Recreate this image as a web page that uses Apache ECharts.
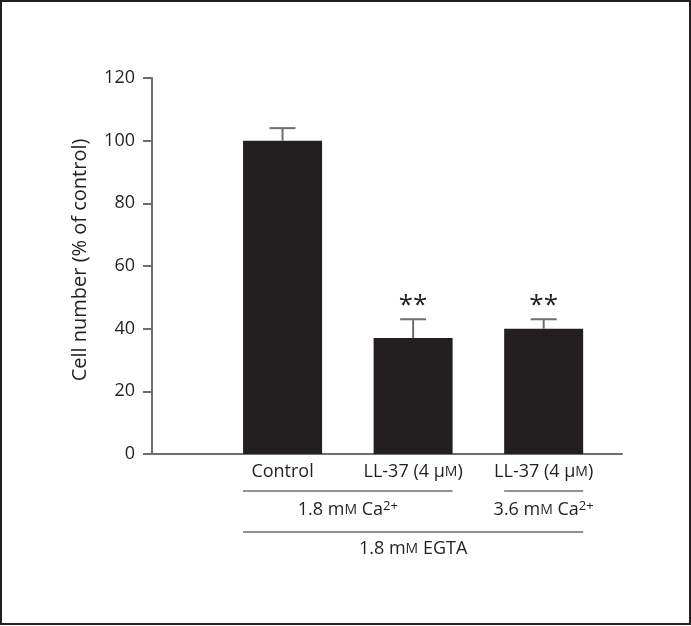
<!DOCTYPE html>
<html>
<head>
<meta charset="utf-8">
<script src="https://cdn.jsdelivr.net/npm/echarts@6/dist/echarts.min.js"></script>
<style>
  html, body { margin: 0; padding: 0; background: #fff; }
  #chart { width: 691px; height: 626px; }
</style>
</head>
<body>
<div id="chart"></div>
<script>
// bar data (x position = 1, 2, 3 on a value axis)
const categories = ['Control', 'LL-37 (4 μ{sc|M})', 'LL-37 (4 μ{sc|M})']
const positions = [1, 2, 3]
const values = [100, 37, 40]
const errors = [4, 6, 3]
const stars = ['', '**', '**']
const yTicks = [0, 20, 40, 60, 80, 100, 120]

const ink = '#231f20'
const grey = '#6d6e71'
const font = 'Open Sans'

const chart = echarts.init(document.getElementById('chart'))

const barData = positions.map((p, i) => [p, values[i]])
const errData = positions.map((p, i) => [p, values[i], errors[i], stars[i]])

chart.setOption({
  animation: false,
  backgroundColor: '#fff',
  grid: { left: 152, right: 69, top: 78, bottom: 172 },
  xAxis: {
    type: 'value',
    min: 0,
    max: 3.6,
    interval: 1,
    splitLine: { show: false },
    axisTick: { show: false },
    axisLine: { lineStyle: { color: grey, width: 2 } },
    axisLabel: {
      showMaxLabel: false,
      margin: 9,
      color: ink,
      fontFamily: font,
      fontSize: 18,
      formatter: v => (v >= 1 && v <= 3 ? categories[v - 1] : ''),
      rich: { sc: { fontSize: 14, fontFamily: font, color: ink } }
    }
  },
  yAxis: {
    type: 'value',
    min: yTicks[0],
    max: yTicks[yTicks.length - 1],
    interval: 20,
    name: 'Cell number (% of control)',
    nameLocation: 'middle',
    nameGap: 62,
    nameTextStyle: { color: ink, fontFamily: font, fontSize: 20, padding: [0, 0, 0, 12] },
    splitLine: { show: false },
    axisLine: { show: true, lineStyle: { color: grey, width: 2 } },
    axisTick: { show: true, length: 9, lineStyle: { color: grey, width: 2 } },
    axisLabel: { color: ink, fontFamily: font, fontSize: 18, margin: 17 }
  },
  series: [
    {
      type: 'bar',
      data: barData,
      barWidth: 79,
      itemStyle: { color: ink }
    },
    {
      type: 'custom',
      data: errData,
      z: 3,
      renderItem: (params, api) => {
        const x = api.value(0)
        const top = api.coord([x, api.value(1) + api.value(2)])
        const base = api.coord([x, api.value(1)])
        const half = 13
        const children = [
          { type: 'line', shape: { x1: base[0], y1: base[1], x2: top[0], y2: top[1] }, style: { stroke: grey, lineWidth: 2 } },
          { type: 'line', shape: { x1: top[0] - half, y1: top[1], x2: top[0] + half, y2: top[1] }, style: { stroke: grey, lineWidth: 2 } }
        ]
        const s = errData[params.dataIndex][3]
        if (s) {
          children.push({
            type: 'text',
            style: { text: s, x: top[0], y: top[1] - 1, align: 'center', verticalAlign: 'bottom', fill: ink, font: '26px "' + font + '"' }
          })
        }
        return { type: 'group', children }
      }
    }
  ]
})

// bracket lines and group labels below the axis
const px = v => chart.convertToPixel({ gridIndex: 0 }, [v, 0])[0]
const halfBar = 39.5 / (px(1) - px(0))
const textStyle = (txt, x, y) => ({
  type: 'text',
  style: {
    text: txt, x, y, align: 'center', verticalAlign: 'middle',
    fill: ink, fontFamily: font, fontSize: 18,
    rich: {
      sc: { fontSize: 14, fontFamily: font, fill: ink },
      sup: { fontSize: 13, fontFamily: font, fill: ink, verticalAlign: 'top', padding: [0, 0, 8, 0] }
    }
  }
})
const bracket = (a, b, y) => ({
  type: 'line',
  shape: { x1: px(a), y1: y, x2: px(b), y2: y },
  style: { stroke: grey, lineWidth: 1.5 }
})

chart.setOption({
  graphic: [
    { type: 'rect', shape: { x: 1, y: 1, width: 689, height: 623 }, style: { fill: null, stroke: ink, lineWidth: 2 } },
    bracket(1 - halfBar, 2 + halfBar, 491),
    bracket(3 - halfBar, 3 + halfBar, 491),
    bracket(1 - halfBar, 3 + halfBar, 532),
    textStyle('1.8 m{sc|M} Ca{sup|2+}', (px(1 - halfBar) + px(2 + halfBar)) / 2, 510),
    textStyle('3.6 m{sc|M} Ca{sup|2+}', px(3), 510),
    textStyle('1.8 m{sc|M} EGTA', (px(1 - halfBar) + px(3 + halfBar)) / 2, 549)
  ]
})
</script>
</body>
</html>
